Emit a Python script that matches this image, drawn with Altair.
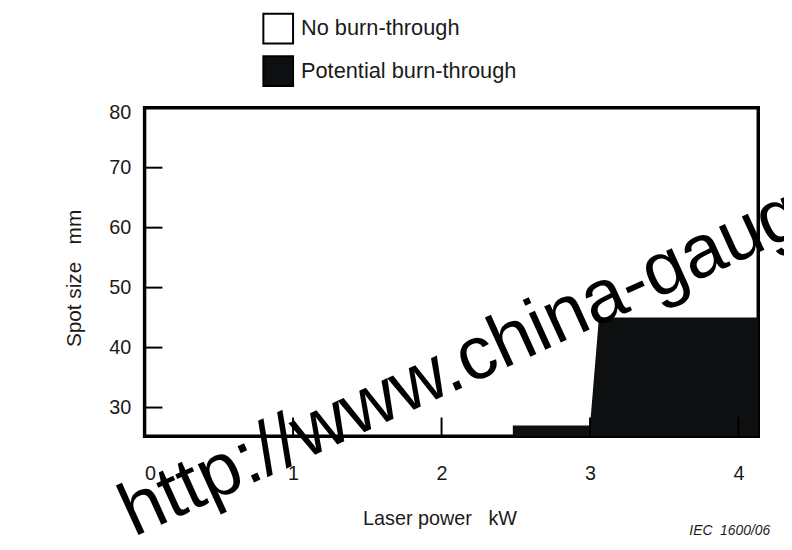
import altair as alt
import pandas as pd

# Black region (potential burn-through) boundary
power_kw = [2.48, 3.0, 3.06, 4.133]
spot_mm = [27, 27, 45, 45]

categories = ["No burn-through", "Potential burn-through"]
x_ticks = [0, 1, 2, 3, 4]
y_ticks = [30, 40, 50, 60, 70, 80]
inner_x_ticks = [1, 2, 3, 4]
inner_y_ticks = [30, 40, 50, 60, 70]
watermark = ["http://www.china-gauges.com"]
fig_id = ["IEC\u00a0\u00a01600/06"]
x_title = "Laser power\u00a0\u00a0\u00a0kW"
y_title = "Spot size\u00a0\u00a0\u00a0mm"

W, H = 620, 332
FONT = "Liberation Sans"
TXT = "#1a1a1a"
BLACK = "#0d0f10"

area_df = pd.DataFrame({"power": power_kw, "spot": spot_mm,
                        "zone": ["Potential burn-through"] * len(power_kw)})

xs = alt.Scale(domain=[0, 4.133], nice=False, zero=False)
ys = alt.Scale(domain=[25.2, 80], nice=False, zero=False)

area = alt.Chart(area_df).mark_area(interpolate="linear", opacity=1).encode(
    x=alt.X("power:Q", scale=xs,
            axis=alt.Axis(values=x_ticks, title=x_title, grid=False, format="d",
                          domain=False, ticks=False, tickSize=0,
                          labelPadding=38, labelBaseline="middle",
                          labelFontSize=20, labelFont=FONT, labelColor=TXT,
                          titleFont=FONT, titleFontSize=20, titleFontWeight="normal",
                          titleColor=TXT, titleX=298, titleY=83,
                          titleBaseline="middle")),
    y=alt.Y("spot:Q", scale=ys,
            axis=alt.Axis(values=y_ticks, title=y_title, grid=False, format="d",
                          domain=False, ticks=False, tickSize=0,
                          labelPadding=14, labelFontSize=20, labelFont=FONT,
                          labelFlush=True, labelFlushOffset=5,
                          labelColor=TXT, titleFont=FONT, titleFontSize=21,
                          titleFontWeight="normal", titleColor=TXT,
                          titleX=-71, titleY=172, titleBaseline="middle")),
    y2=alt.datum(25.2),
    fill=alt.Fill("zone:N",
                  scale=alt.Scale(domain=categories, range=["#ffffff", BLACK]),
                  legend=alt.Legend(title=None, orient="none", legendX=119, legendY=-96,
                                    symbolType="square", symbolSize=900,
                                    symbolStrokeColor="black", symbolStrokeWidth=2,
                                    symbolOpacity=1, labelFont=FONT, labelFontSize=22,
                                    labelColor=TXT, labelOffset=7, rowPadding=5,
                                    labelLimit=0)),
)

ytick_df = pd.DataFrame({"v": inner_y_ticks})
yticks = alt.Chart(ytick_df).mark_rule(color="black", strokeWidth=2).encode(
    y=alt.Y("v:Q", scale=ys), x=alt.value(0), x2=alt.value(18))

xtick_df = pd.DataFrame({"v": inner_x_ticks})
xticks = alt.Chart(xtick_df).mark_rule(color="black", strokeWidth=2).encode(
    x=alt.X("v:Q", scale=xs), y=alt.value(H), y2=alt.value(H - 19))

wm = alt.Chart(pd.DataFrame({"t": watermark})).mark_text(
    font=FONT, fontSize=76, angle=335.5, align="left", baseline="alphabetic",
    color="black").encode(text="t:N", x=alt.value(-11), y=alt.value(434))

iec = alt.Chart(pd.DataFrame({"t": fig_id})).mark_text(
    font=FONT, fontSize=14, fontStyle="italic", align="right", baseline="middle",
    color=TXT).encode(text="t:N", x=alt.value(632), y=alt.value(428))

chart = alt.layer(area, yticks, xticks, wm, iec).properties(
    width=W, height=H,
    autosize=alt.AutoSizeParams(type="none"),
    padding={"left": 138, "top": 98, "right": 26, "bottom": 104},
).configure_view(stroke="black", strokeWidth=3.5)

chart.save("out.html", embed_options={"renderer": "svg", "actions": False})
